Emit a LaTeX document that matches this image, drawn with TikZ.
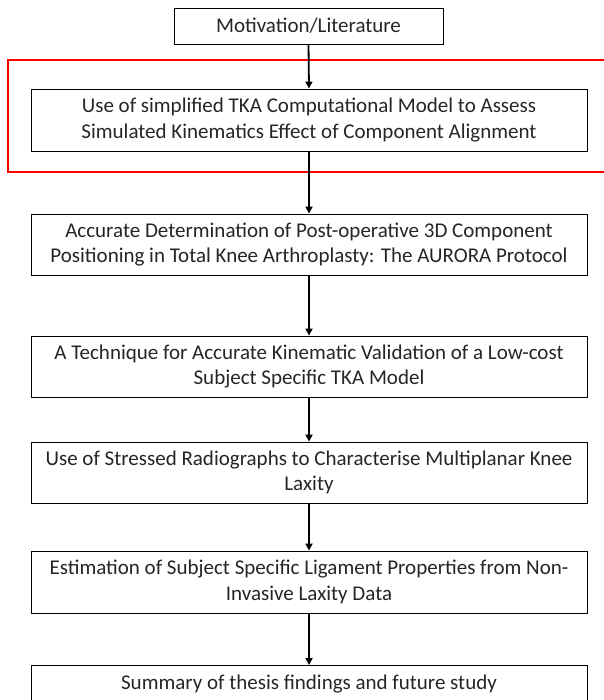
\documentclass[tikz,border=0pt]{standalone}
\usepackage{fontspec}
\setmainfont{Carlito}
\usetikzlibrary{arrows.meta}
\begin{document}
\begin{tikzpicture}[x=1pt,y=-1pt,
  box/.style={draw=black,line width=0.9pt,rectangle,align=center,inner sep=0pt,
    font=\fontsize{21}{25.5}\selectfont,text=black!85},
  wide/.style={box,minimum width=556pt},
  flow/.style={line width=1.8pt,-{Triangle[width=7pt,length=7pt]}}]
\useasboundingbox (0,0) rectangle (603,700);
\fill[white] (0,0) rectangle (603,700);
\draw[red,line width=2pt] (8,60) rectangle (606,172);
\node[box,minimum width=269pt,minimum height=36pt] (m) at (308.5,26) {Motivation/Literature};
\node[wide,minimum height=62pt] (b2) at (309,120) {Use of simplified TKA Computational Model to Assess\\Simulated Kinematics Effect of Component Alignment};
\node[wide,minimum height=61pt] (b3) at (309,244.5) {Accurate Determination of Post-operative 3D Component\\Positioning in Total Knee Arthroplasty: The AURORA Protocol};
\node[wide,minimum height=61pt] (b4) at (309,366.5) {A Technique for Accurate Kinematic Validation of a Low-cost\\Subject Specific TKA Model};
\node[wide,minimum height=61pt] (b5) at (309,472.5) {Use of Stressed Radiographs to Characterise Multiplanar Knee\\Laxity};
\node[wide,minimum height=62pt] (b6) at (309,582) {Estimation of Subject Specific Ligament Properties from Non-\\Invasive Laxity Data};
\node[wide,minimum height=40pt,anchor=north] (b7) at (309,665) {};
\node[font=\fontsize{21}{25.5}\selectfont,text=black!85] (t7) at (309,684) {Summary of thesis findings and future study};
\draw[flow] (m.south) -- (b2.north);
\draw[flow] (b2.south) -- (b3.north);
\draw[flow] (b3.south) -- (b4.north);
\draw[flow] (b4.south) -- (b5.north);
\draw[flow] (b5.south) -- (b6.north);
\draw[flow] (b6.south) -- (b7.north);
\end{tikzpicture}
\end{document}
